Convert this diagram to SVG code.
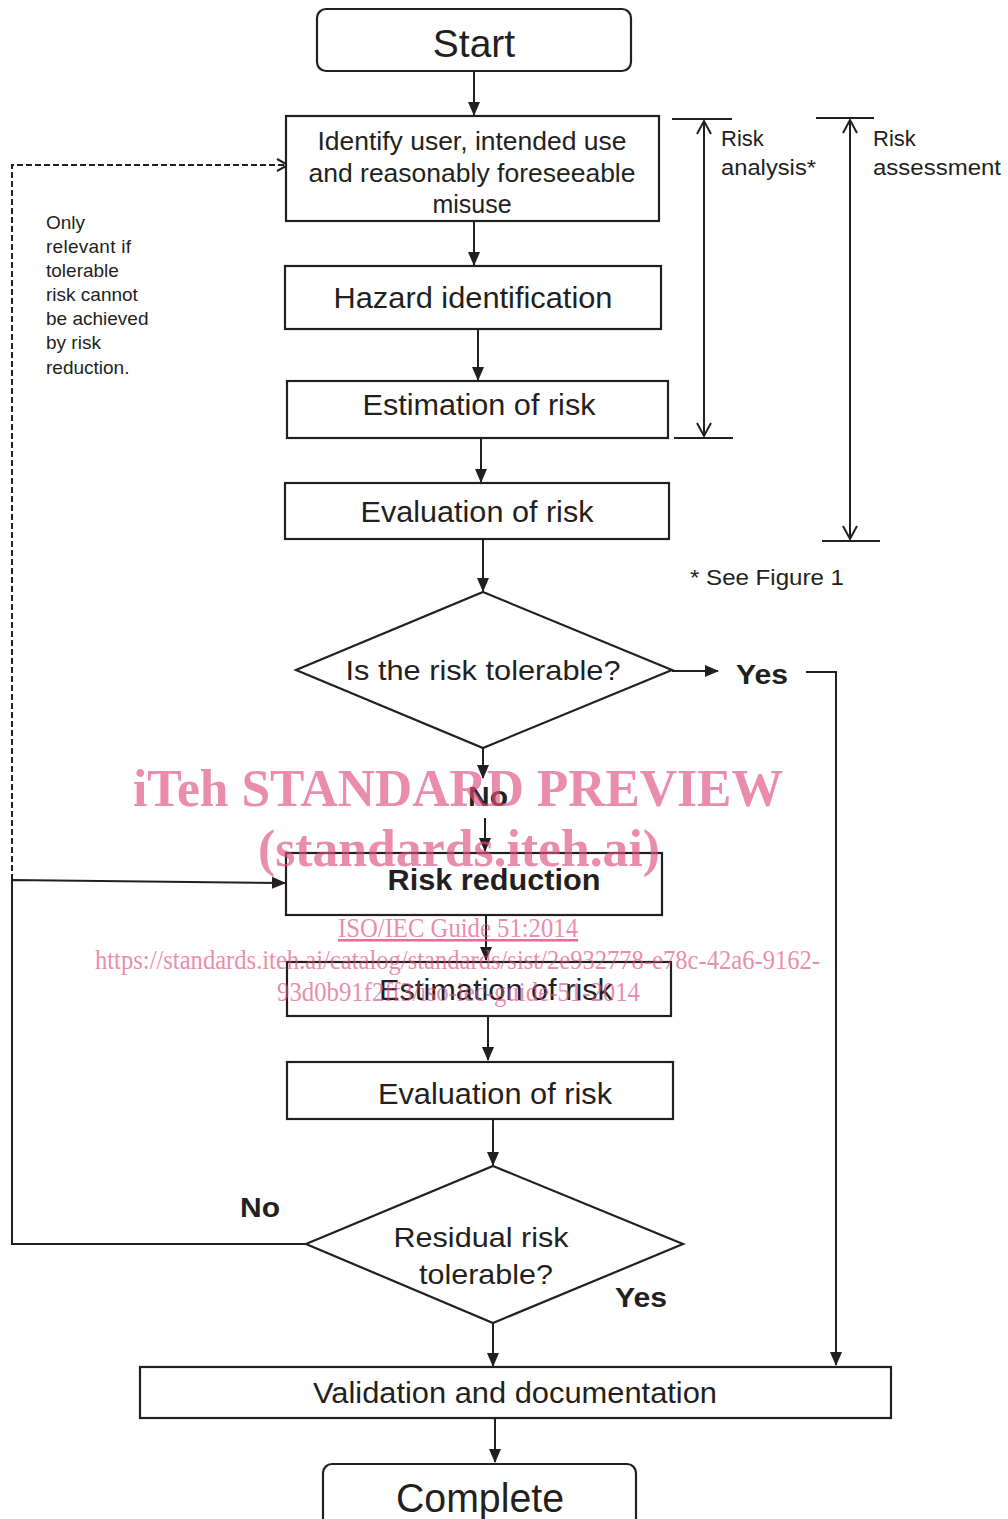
<svg xmlns="http://www.w3.org/2000/svg" width="1008" height="1519" viewBox="0 0 1008 1519">
<style>
.box{fill:#fff;stroke:#231f20;stroke-width:2.2}
.ln{fill:none;stroke:#231f20;stroke-width:2}
.t{font-family:"Liberation Sans",Arial,sans-serif;fill:#231f20;text-anchor:middle}
.b{font-weight:bold}
.s{font-family:"Liberation Sans",Arial,sans-serif;fill:#231f20}
.wm{font-family:"Liberation Serif","Times New Roman",serif;fill:#e0507f;opacity:0.65}
</style>
<defs>
<marker id="ah" markerUnits="userSpaceOnUse" markerWidth="14" markerHeight="14" viewBox="0 0 14 14" refX="13" refY="7" orient="auto">
<path d="M0,1 L14,7 L0,13 Z" fill="#231f20"/>
</marker>
<marker id="oa" markerUnits="userSpaceOnUse" markerWidth="14" markerHeight="14" viewBox="0 0 14 14" refX="13" refY="7" orient="auto">
<path d="M2,1 L13,7 L2,13" fill="none" stroke="#231f20" stroke-width="2"/>
</marker>
</defs>

<g id="connectors">
<line class="ln" x1="474" y1="71" x2="474" y2="115" marker-end="url(#ah)"/>
<line class="ln" x1="474" y1="221" x2="474" y2="265" marker-end="url(#ah)"/>
<line class="ln" x1="478" y1="329" x2="478" y2="380" marker-end="url(#ah)"/>
<line class="ln" x1="481" y1="438" x2="481" y2="482" marker-end="url(#ah)"/>
<line class="ln" x1="483" y1="539" x2="483" y2="591" marker-end="url(#ah)"/>
<line class="ln" x1="672" y1="671" x2="718" y2="671" marker-end="url(#ah)"/>
<polyline class="ln" points="806,672 836,672 836,1365" marker-end="url(#ah)"/>
<line class="ln" x1="483" y1="748" x2="483" y2="778" marker-end="url(#ah)"/>
<line class="ln" x1="485" y1="818" x2="485" y2="851" marker-end="url(#ah)"/>
<line class="ln" x1="486" y1="915" x2="486" y2="960" marker-end="url(#ah)"/>
<line class="ln" x1="488" y1="1016" x2="488" y2="1060" marker-end="url(#ah)"/>
<line class="ln" x1="493" y1="1119" x2="493" y2="1165" marker-end="url(#ah)"/>
<line class="ln" x1="493" y1="1323" x2="493" y2="1366" marker-end="url(#ah)"/>
<line class="ln" x1="495" y1="1418" x2="495" y2="1462" marker-end="url(#ah)"/>
<polyline class="ln" points="306,1244 12,1244 12,880 285,883" marker-end="url(#ah)"/>
<polyline class="ln" points="12,880 12,165 288,165" stroke-dasharray="6,3" marker-end="url(#oa)"/>
<!-- dimension lines -->
<line class="ln" x1="672" y1="119" x2="732" y2="119"/>
<line class="ln" x1="674" y1="438" x2="733" y2="438"/>
<line class="ln" x1="704" y1="121" x2="704" y2="436"/>
<polyline class="ln" points="697,134 704,121 711,134"/>
<polyline class="ln" points="697,423 704,436 711,423"/>
<line class="ln" x1="816" y1="118" x2="874" y2="118"/>
<line class="ln" x1="822" y1="541" x2="880" y2="541"/>
<line class="ln" x1="850" y1="120" x2="850" y2="539"/>
<polyline class="ln" points="843,133 850,120 857,133"/>
<polyline class="ln" points="843,526 850,539 857,526"/>
</g>

<g id="start">
<rect class="box" x="317" y="9" width="314" height="62" rx="9"/>
<text class="t" x="474" y="57" font-size="39">Start</text>
</g>
<g id="identify">
<rect class="box" x="286" y="116" width="373" height="105"/>
<text class="t" x="472" y="150" font-size="25" textLength="309" lengthAdjust="spacingAndGlyphs">Identify user, intended use</text>
<text class="t" x="472" y="182" font-size="25" textLength="327" lengthAdjust="spacingAndGlyphs">and reasonably foreseeable</text>
<text class="t" x="472" y="213" font-size="25">misuse</text>
</g>
<g id="hazard">
<rect class="box" x="285" y="266" width="376" height="63"/>
<text class="t" x="473" y="308" font-size="29" textLength="279" lengthAdjust="spacingAndGlyphs">Hazard identification</text>
</g>
<g id="estimation1">
<rect class="box" x="287" y="381" width="381" height="57"/>
<text class="t" x="479" y="415" font-size="29" textLength="233" lengthAdjust="spacingAndGlyphs">Estimation of risk</text>
</g>
<g id="evaluation1">
<rect class="box" x="285" y="483" width="384" height="56"/>
<text class="t" x="477" y="522" font-size="29" textLength="233" lengthAdjust="spacingAndGlyphs">Evaluation of risk</text>
</g>
<g id="decision1">
<polygon class="box" points="483,592 672,670 483,748 296,670"/>
<text class="t" x="483" y="680" font-size="28" textLength="275" lengthAdjust="spacingAndGlyphs">Is the risk tolerable?</text>
</g>
<g id="labels">
<text class="s b" x="736" y="684" font-size="27" textLength="52" lengthAdjust="spacingAndGlyphs">Yes</text>
<text class="s b" x="468" y="806" font-size="27" textLength="40" lengthAdjust="spacingAndGlyphs">No</text>
<text class="s b" x="240" y="1217" font-size="27" textLength="40" lengthAdjust="spacingAndGlyphs">No</text>
<text class="s b" x="615" y="1307" font-size="27" textLength="52" lengthAdjust="spacingAndGlyphs">Yes</text>
<text class="s" x="721" y="146" font-size="22">Risk</text>
<text class="s" x="721" y="175" font-size="22" textLength="95" lengthAdjust="spacingAndGlyphs">analysis*</text>
<text class="s" x="873" y="146" font-size="22">Risk</text>
<text class="s" x="873" y="175" font-size="22" textLength="128" lengthAdjust="spacingAndGlyphs">assessment</text>
<text class="s" x="690" y="585" font-size="22" textLength="154" lengthAdjust="spacingAndGlyphs">* See Figure 1</text>
<g class="s" font-size="19">
<text x="46" y="229">Only</text>
<text x="46" y="253" textLength="85" lengthAdjust="spacing">relevant if</text>
<text x="46" y="277">tolerable</text>
<text x="46" y="301">risk cannot</text>
<text x="46" y="325">be achieved</text>
<text x="46" y="349">by risk</text>
<text x="46" y="374">reduction.</text>
</g>
</g>
<g id="riskreduction">
<rect class="box" x="286" y="853" width="376" height="62"/>
<text class="t b" x="494" y="890" font-size="29" textLength="213" lengthAdjust="spacingAndGlyphs">Risk reduction</text>
</g>
<g id="estimation2">
<rect class="box" x="287" y="962" width="384" height="54"/>
<text class="t" x="496" y="1000" font-size="29" textLength="234" lengthAdjust="spacingAndGlyphs">Estimation of risk</text>
</g>
<g id="evaluation2">
<rect class="box" x="287" y="1062" width="386" height="57"/>
<text class="t" x="495" y="1104" font-size="29" textLength="234" lengthAdjust="spacingAndGlyphs">Evaluation of risk</text>
</g>
<g id="decision2">
<polygon class="box" points="493,1166 683,1244 493,1323 306,1244"/>
<text class="t" x="481" y="1247" font-size="28" textLength="175" lengthAdjust="spacingAndGlyphs">Residual risk</text>
<text class="t" x="486" y="1284" font-size="28" textLength="134" lengthAdjust="spacingAndGlyphs">tolerable?</text>
</g>
<g id="validation">
<rect class="box" x="140" y="1367" width="751" height="51"/>
<text class="t" x="515" y="1403" font-size="29" textLength="404" lengthAdjust="spacingAndGlyphs">Validation and documentation</text>
</g>
<g id="complete">
<rect class="box" x="323" y="1464" width="313" height="70" rx="9"/>
<text class="t" x="480" y="1512" font-size="40" textLength="168" lengthAdjust="spacingAndGlyphs">Complete</text>
</g>

<g id="watermark">
<text class="wm" x="133" y="806" font-size="52" font-weight="bold" textLength="650" lengthAdjust="spacingAndGlyphs">iTeh STANDARD PREVIEW</text>
<text class="wm" x="258" y="866" font-size="52" font-weight="bold" textLength="402" lengthAdjust="spacingAndGlyphs">(standards.iteh.ai)</text>
<text class="wm" x="338" y="937" font-size="27" textLength="240" lengthAdjust="spacingAndGlyphs" text-decoration="underline">ISO/IEC Guide 51:2014</text>
<line x1="338" y1="940" x2="578" y2="940" stroke="#e0507f" stroke-width="1.3" opacity="0.65"/>
<text class="wm" x="95" y="969" font-size="27" textLength="725" lengthAdjust="spacingAndGlyphs">https://standards.iteh.ai/catalog/standards/sist/2e932778-e78c-42a6-9162-</text>
<text class="wm" x="277" y="1001" font-size="27" textLength="363" lengthAdjust="spacingAndGlyphs">93d0b91f2ff3/iso-iec-guide-51-2014</text>
</g>
</svg>
